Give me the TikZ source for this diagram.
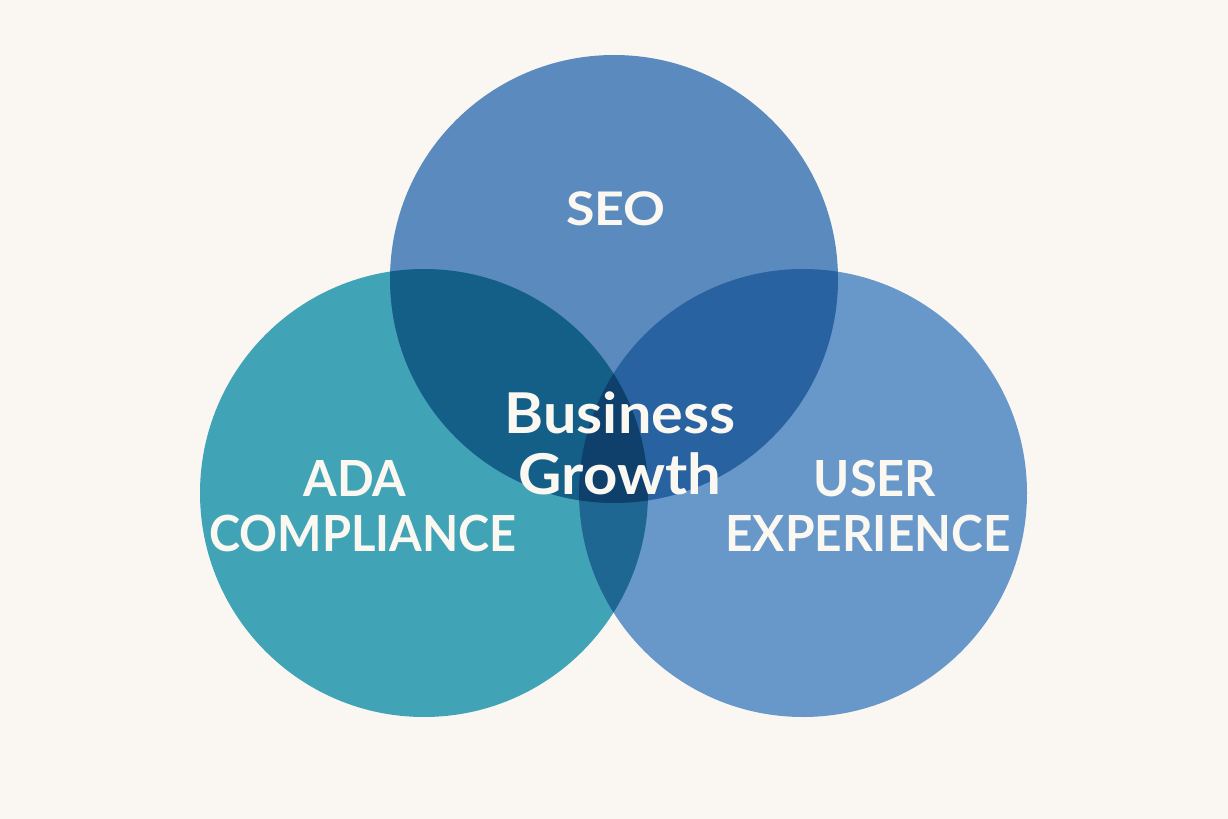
\documentclass[tikz,border=0pt]{standalone}
\usepackage{graphicx}
\usepackage{fontspec}
\setmainfont{Lato}
\definecolor{bgc}{HTML}{FAF7F3}
\definecolor{seoc}{HTML}{5B8BBE}
\definecolor{adac}{HTML}{40A4B6}
\definecolor{uxc}{HTML}{6897CA}
\definecolor{sac}{HTML}{135F88}
\definecolor{suc}{HTML}{2862A0}
\definecolor{auc}{HTML}{1D6792}
\definecolor{allc}{HTML}{0F406B}
\definecolor{txtc}{HTML}{FBF8F2}
\newcommand{\hs}[2]{\scalebox{#1}[1]{#2}}
\tikzset{
  lbl/.style={text=txtc, font=\bfseries\fontsize{50}{60}\selectfont, anchor=base, inner sep=0pt},
  seolbl/.style={lbl, font=\bfseries\fontsize{46.5}{56}\selectfont},
  biglbl/.style={lbl, font=\bfseries\fontsize{56.5}{68}\selectfont},
}
\begin{document}
\begin{tikzpicture}[x=1bp,y=-1bp]
\fill[bgc] (0,0) rectangle (1228,819);
\useasboundingbox (0,0) rectangle (1228,819);
\coordinate (S) at (614,279);
\coordinate (A) at (424,493);
\coordinate (U) at (803,493);
\def\R{224bp}
\fill[adac] (A) circle (\R);
\fill[uxc] (U) circle (\R);
\fill[seoc] (S) circle (\R);
\begin{scope}
  \clip (S) circle (\R);
  \fill[sac] (A) circle (\R);
  \fill[suc] (U) circle (\R);
\end{scope}
\begin{scope}
  \clip (A) circle (\R);
  \fill[auc] (U) circle (\R);
\end{scope}
\begin{scope}
  \clip (S) circle (\R);
  \clip (A) circle (\R);
  \fill[allc] (U) circle (\R);
\end{scope}
\node[seolbl] (seo) at (616,225) {\hs{1.12}{SEO}};
\node[biglbl] (bg1) at (620,433) {\hs{1.055}{Business}};
\node[biglbl] (bg2) at (620,494) {\hs{1.064}{Growth}};
\node[lbl] (ada1) at (355,496) {\hs{0.97}{ADA}};
\node[lbl] (ada2) at (363,551) {\hs{0.944}{COMPLIANCE}};
\node[lbl] (ux1) at (875,496) {\hs{0.98}{USER}};
\node[lbl] (ux2) at (868,551) {\hs{0.96}{EXPERIENCE}};
\end{tikzpicture}
\end{document}
